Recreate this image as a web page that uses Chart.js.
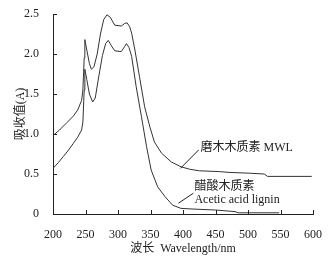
<!DOCTYPE html>
<html>
<head>
<meta charset="utf-8">
<script src="https://cdn.jsdelivr.net/npm/chart.js@4"></script>
<style>
  html, body { margin: 0; padding: 0; background: #fff; }
  #wrap { width: 329px; height: 260px; }
</style>
</head>
<body>
<div id="wrap"><canvas id="uvChart"></canvas></div>
<script>
// MWL (milled wood lignin) curve
const mwlWave = [200, 210, 221, 231, 238, 244, 246, 248, 249, 252, 256, 259, 263, 268, 273, 278, 283, 288, 295, 305, 310, 314, 318, 321, 326, 333, 341, 349, 356, 367, 382, 397, 410, 425, 456, 471, 502, 525, 530, 598];
const mwlAbs  = [0.98, 1.05, 1.14, 1.22, 1.30, 1.42, 1.55, 1.95, 2.18, 2.05, 1.88, 1.81, 1.84, 2.00, 2.25, 2.43, 2.49, 2.46, 2.36, 2.35, 2.38, 2.39, 2.34, 2.26, 2.05, 1.72, 1.34, 1.09, 0.90, 0.76, 0.65, 0.59, 0.56, 0.54, 0.53, 0.52, 0.51, 0.50, 0.47, 0.47];

// acetic acid lignin curve
const aalWave = [200, 208, 216, 224, 231, 238, 244, 246, 248, 249, 252, 256, 261, 265, 270, 276, 281, 285, 290, 295, 305, 310, 313, 317, 321, 328, 336, 344, 351, 361, 372, 384, 397, 420, 450, 480, 485, 548];
const aalAbs  = [0.57, 0.64, 0.72, 0.80, 0.88, 0.96, 1.05, 1.15, 1.55, 1.81, 1.68, 1.50, 1.40, 1.45, 1.70, 1.98, 2.13, 2.17, 2.10, 2.04, 2.03, 2.09, 2.13, 2.08, 1.97, 1.59, 1.22, 0.84, 0.55, 0.34, 0.22, 0.11, 0.07, 0.06, 0.05, 0.03, 0.015, 0.015];

const xTicks = [200, 250, 300, 350, 400, 450, 500, 550, 600];
const yTicks = [0, 0.5, 1.0, 1.5, 2.0, 2.5];

// labels: [text lines, leader start (x,y), leader end (x,y)]
const mwlLabel = ["磨木木质素 MWL"];
const aalLabel = ["醋酸木质素", "Acetic acid lignin"];
const mwlLeader = [[396, 0.57], [424, 0.80]];
const aalLeader = [[393, 0.135], [416, 0.26]];

const serif = "'Liberation Serif', 'Times New Roman', serif";
const cjk = "'Liberation Serif', 'Noto Sans CJK SC', serif";
const ink = '#222';

function toPoints(xs, ys) {
    return xs.map((x, i) => ({ x: x, y: ys[i] }));
}

const extras = {
    id: 'extras',
    afterDraw(chart) {
        const c = chart.ctx;
        const xs = chart.scales.x;
        const ys = chart.scales.y;
        c.save();
        c.strokeStyle = ink;
        c.lineWidth = 1;
        // inward tick marks
        c.beginPath();
        xTicks.forEach(v => {
            const px = Math.round(xs.getPixelForValue(v)) + 0.5;
            c.moveTo(px, ys.bottom);
            c.lineTo(px, ys.bottom - 4);
        });
        yTicks.forEach(v => {
            const py = Math.round(ys.getPixelForValue(v)) + 0.5;
            c.moveTo(xs.left, py);
            c.lineTo(xs.left + 4, py);
        });
        c.stroke();

        // leader lines
        [mwlLeader, aalLeader].forEach(l => {
            c.beginPath();
            c.moveTo(xs.getPixelForValue(l[0][0]), ys.getPixelForValue(l[0][1]));
            c.lineTo(xs.getPixelForValue(l[1][0]), ys.getPixelForValue(l[1][1]));
            c.stroke();
        });

        // label text
        c.fillStyle = ink;
        c.textBaseline = 'middle';
        c.font = '12px ' + cjk;
        let lx = xs.getPixelForValue(mwlLeader[1][0]) + 2;
        let ly = ys.getPixelForValue(mwlLeader[1][1]) - 2;
        c.fillText(mwlLabel[0], lx, ly);

        lx = xs.getPixelForValue(aalLeader[1][0]) + 1;
        ly = ys.getPixelForValue(aalLeader[1][1]) - 6;
        c.fillText(aalLabel[0], lx, ly);
        c.font = '12px ' + serif;
        c.fillText(aalLabel[1], lx, ly + 13);
        c.restore();
    }
};

const ctx = document.getElementById('uvChart').getContext('2d');

new Chart(ctx, {
    type: 'line',
    data: {
        datasets: [{
            label: '磨木木质素 MWL',
            data: toPoints(mwlWave, mwlAbs),
            borderColor: '#333',
            borderWidth: 1,
            pointRadius: 0,
            tension: 0
        }, {
            label: '醋酸木质素 Acetic acid lignin',
            data: toPoints(aalWave, aalAbs),
            borderColor: '#333',
            borderWidth: 1,
            pointRadius: 0,
            tension: 0
        }]
    },
    options: {
        responsive: true,
        maintainAspectRatio: false,
        animation: false,
        layout: { padding: { top: 14, right: 16, left: 0, bottom: 0 } },
        plugins: {
            legend: { display: false },
            tooltip: { enabled: false }
        },
        scales: {
            x: {
                type: 'linear',
                min: 200,
                max: 600,
                afterBuildTicks: axis => { axis.ticks = xTicks.map(v => ({ value: v })); },
                grid: { display: false },
                border: { color: ink, width: 1 },
                ticks: {
                    color: ink,
                    padding: 6,
                    maxRotation: 0,
                    font: { family: serif, size: 12 }
                },
                title: {
                    display: true,
                    text: '波长  Wavelength/nm',
                    color: ink,
                    padding: { top: 3 },
                    font: { family: cjk, size: 12 }
                },
                afterFit: axis => { axis.height = 46; }
            },
            y: {
                min: 0,
                max: 2.5,
                afterBuildTicks: axis => { axis.ticks = yTicks.map(v => ({ value: v })); },
                grid: { display: false },
                border: { color: ink, width: 1 },
                ticks: {
                    color: ink,
                    padding: 6,
                    font: { family: serif, size: 12 },
                    callback: v => v === 0 ? '0' : v.toFixed(1)
                },
                title: {
                    display: true,
                    text: '吸收值(A)',
                    color: ink,
                    padding: { top: 14 },
                    font: { family: cjk, size: 12 }
                },
                afterFit: axis => { axis.width = 53; }
            }
        }
    },
    plugins: [extras]
});
</script>
</body>
</html>
